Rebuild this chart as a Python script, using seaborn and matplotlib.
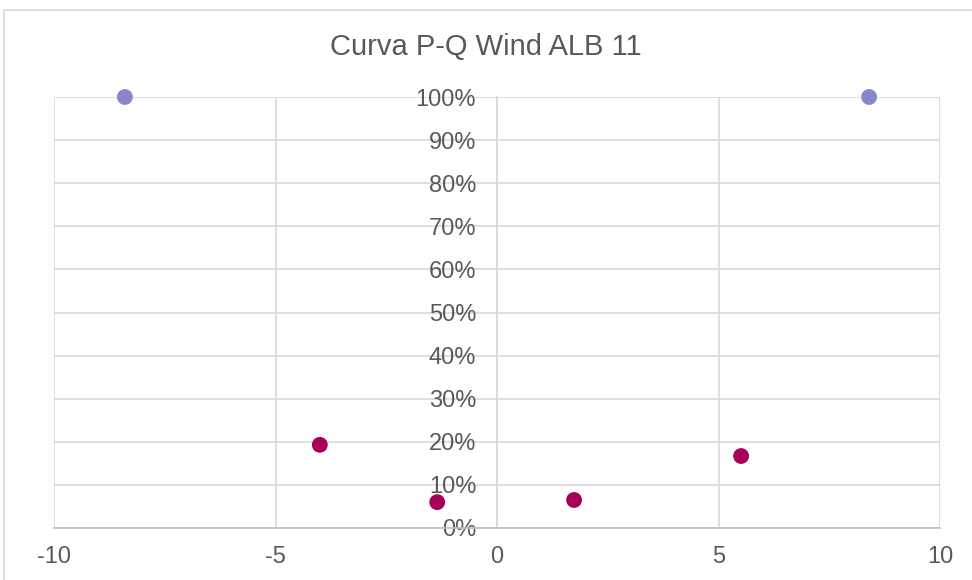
import matplotlib
matplotlib.use("Agg")
import matplotlib.pyplot as plt
import seaborn as sns
import pandas as pd
from matplotlib.patches import Rectangle
from matplotlib.ticker import PercentFormatter

series_a_x = [-8.4, 8.4]
series_a_y = [1.00, 1.00]
series_b_x = [-4.0, -1.35, 1.74, 5.51]
series_b_y = [0.193, 0.060, 0.065, 0.167]
x_ticks = [-10, -5, 0, 5, 10]
y_ticks = [0.0, 0.1, 0.2, 0.3, 0.4, 0.5, 0.6, 0.7, 0.8, 0.9, 1.0]
title = "Curva P-Q Wind ALB 11"

df = pd.DataFrame({
    "Q": series_a_x + series_b_x,
    "P": series_a_y + series_b_y,
    "serie": ["A"] * len(series_a_x) + ["B"] * len(series_b_x),
})

sns.set_theme(style="white")
plt.rcParams["font.family"] = ["Liberation Sans", "DejaVu Sans"]
plt.rcParams["axes.unicode_minus"] = False

fig = plt.figure(figsize=(9.72, 5.8), dpi=100)
fig.patches.append(Rectangle((4 / 972, -0.05), 1.2, (580 - 10) / 580 + 0.05,
                             transform=fig.transFigure, fill=False,
                             edgecolor="#D9D9D9", linewidth=1.2, zorder=0))
ax = fig.add_axes([54 / 972, 1 - 528 / 580, (940 - 54) / 972, (528 - 97) / 580])

sns.scatterplot(data=df, x="Q", y="P", hue="serie",
                palette={"A": "#8985CC", "B": "#A8005A"},
                s=130, edgecolor="none", legend=False, ax=ax, zorder=5, clip_on=False)

ax.set_xlim(-10, 10)
ax.set_ylim(0, 1)
ax.set_xticks(x_ticks)
ax.set_yticks(y_ticks)
ax.yaxis.set_major_formatter(PercentFormatter(1.0, decimals=0))
ax.grid(True, color="#D9D9D9", linewidth=1.2)
ax.set_axisbelow(True)
for s in ["top", "right"]:
    ax.spines[s].set_visible(False)
ax.spines["left"].set_position(("data", 0))
ax.spines["left"].set_color("#D9D9D9")
ax.spines["left"].set_linewidth(1.2)
ax.spines["bottom"].set_color("#BFBFBF")
ax.spines["bottom"].set_linewidth(1.2)
ax.tick_params(axis="both", length=0, labelsize=17, labelcolor="#595959")
ax.tick_params(axis="y", pad=15)
ax.tick_params(axis="x", pad=13)
ax.set_xlabel("")
ax.set_ylabel("")
fig.text(0.5, 1 - 47 / 580, title, ha="center", va="center", fontsize=21, color="#595959")

fig.savefig("out.png", dpi=100)
